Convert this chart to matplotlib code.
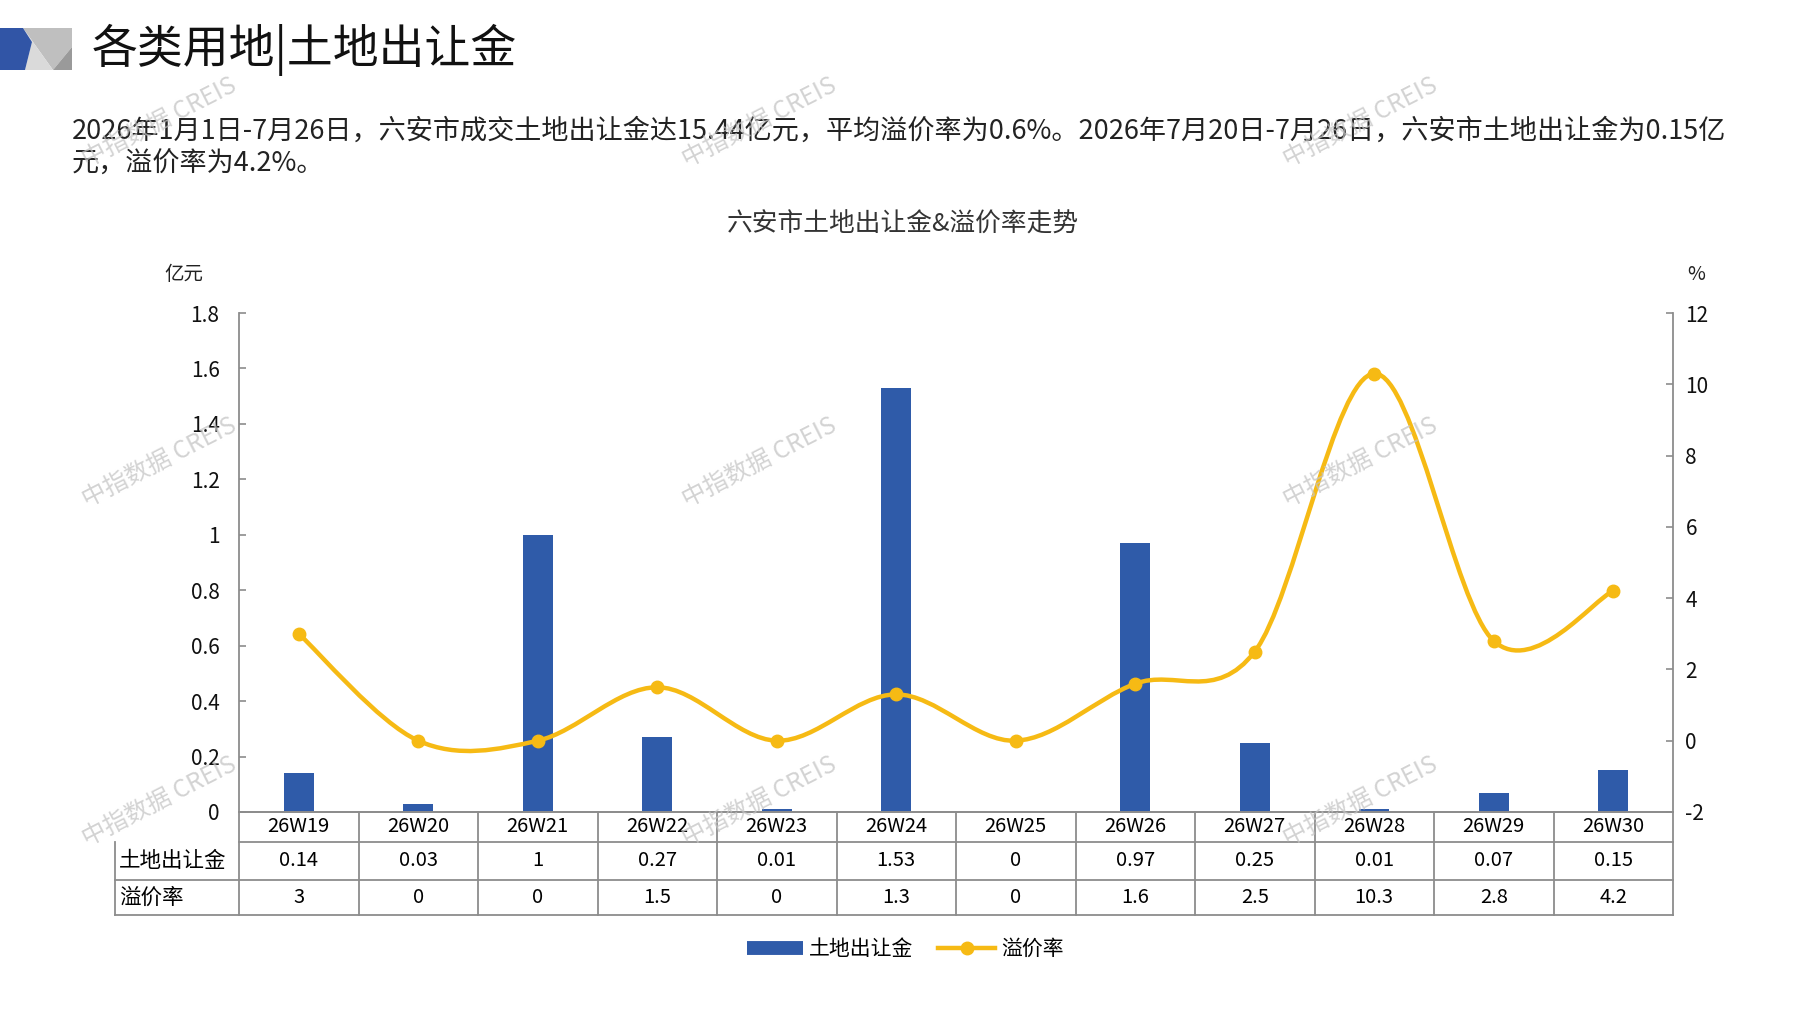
import matplotlib
matplotlib.use("Agg")
import matplotlib.pyplot as plt
import matplotlib.transforms as mtransforms
from matplotlib.path import Path
from matplotlib.patches import PathPatch, Polygon
from matplotlib.lines import Line2D
import numpy as np

plt.rcParams['font.family'] = ['Noto Sans CJK SC', 'DejaVu Sans']

# 数据
weeks = ['26W19', '26W20', '26W21', '26W22', '26W23', '26W24',
         '26W25', '26W26', '26W27', '26W28', '26W29', '26W30']
land_money = [0.14, 0.03, 1, 0.27, 0.01, 1.53, 0, 0.97, 0.25, 0.01, 0.07, 0.15]
premium_rate = [3, 0, 0, 1.5, 0, 1.3, 0, 1.6, 2.5, 10.3, 2.8, 4.2]
left_ticks = [0, 0.2, 0.4, 0.6, 0.8, 1, 1.2, 1.4, 1.6, 1.8]
right_ticks = [-2, 0, 2, 4, 6, 8, 10, 12]
row_names = ['土地出让金', '溢价率']

title = '各类用地|土地出让金'
para1 = ('2026年1月1日-7月26日，六安市成交土地出让金达15.44亿元，平均溢价率为0.6%。'
         '2026年7月20日-7月26日，六安市土地出让金为0.15亿')
para2 = '元，溢价率为4.2%。'
chart_title = '六安市土地出让金&溢价率走势'

BLUE = '#2F5BA9'
GOLD = '#F6BA14'
GRID = '#8C8C8C'

W, H = 1797, 1010
fig = plt.figure(figsize=(W / 100, H / 100), dpi=100)


def fx(px):
    return px / W


def fy(py):
    return 1 - py / H


# 标题左侧色块
blocks = [
    ([(23, 28), (72, 28), (72, 47), (53, 70)], '#BFBFBF'),
    ([(23, 28), (53, 70), (25, 70), (32, 42)], '#DADADA'),
    ([(53, 70), (72, 47), (72, 70)], '#9A9A9A'),
    ([(0, 28), (23, 28), (32, 42), (25, 70), (0, 70)], '#3155A6'),
]
for pts, c in blocks:
    fig.patches.append(Polygon([(fx(a), fy(b)) for a, b in pts], closed=True,
                               transform=fig.transFigure, color=c, lw=0))

fig.text(fx(92), fy(50), title, fontsize=33, va='center', ha='left', color='#111111')
fig.text(fx(72), fy(131), para1, fontsize=19.5, va='center', ha='left', color='#222222')
fig.text(fx(72), fy(164), para2, fontsize=19.5, va='center', ha='left', color='#222222')
fig.text(fx(903), fy(225), chart_title, fontsize=18.5, va='center', ha='center', color='#333333')
fig.text(fx(184), fy(274), '亿元', fontsize=14, va='center', ha='center', color='#222222')
fig.text(fx(1696), fy(274), '%', fontsize=14, va='center', ha='center', color='#222222')

# 主图区
x0, x1, y0, y1 = 239, 1673, 313, 812
ax = fig.add_axes([fx(x0), fy(y1), (x1 - x0) / W, (y1 - y0) / H])
ax2 = ax.twinx()

x = np.arange(len(weeks))
bars = ax.bar(x, land_money, width=0.25, color=BLUE, zorder=2, label='土地出让金')
ax.set_xlim(-0.5, len(weeks) - 0.5)
ax.set_ylim(0, 1.8)
ax.set_yticks(left_ticks)
ax.set_yticklabels([f'{v:g}' for v in left_ticks])
ax2.set_ylim(-2, 12)
ax2.set_yticks(right_ticks)
ax2.set_yticklabels([f'{v:g}' for v in right_ticks])
ax.set_xticks([])

for a in (ax, ax2):
    a.spines['top'].set_visible(False)
    for s in ('left', 'right', 'bottom'):
        a.spines[s].set_color(GRID)
        a.spines[s].set_linewidth(1.3)
    a.tick_params(axis='y', direction='in', length=5, width=1.2, color=GRID,
                  labelsize=15, labelcolor='#111111')
ax.tick_params(axis='y', pad=14)
ax2.tick_params(axis='y', pad=9)
ax.spines['right'].set_visible(False)
ax2.spines['left'].set_visible(False)

# 平滑折线（贝塞尔曲线）
pts = np.column_stack([x, premium_rate]).astype(float)
n = len(pts)
verts = [pts[0]]
codes = [Path.MOVETO]
for i in range(n - 1):
    p0 = pts[max(i - 1, 0)]
    p1 = pts[i]
    p2 = pts[i + 1]
    p3 = pts[min(i + 2, n - 1)]
    verts += [p1 + (p2 - p0) / 6, p2 - (p3 - p1) / 6, p2]
    codes += [Path.CURVE4] * 3
ax2.add_patch(PathPatch(Path(verts, codes), facecolor='none', edgecolor=GOLD,
                        lw=3.2, zorder=3, capstyle='round'))
ax2.plot(x, premium_rate, linestyle='none', marker='o', markersize=9,
         color=GOLD, zorder=4)

# 数据表
tr = mtransforms.blended_transform_factory(ax.transData, ax.transAxes)
tra = ax.transAxes
h = y1 - y0
r0 = -30 / h
r1 = -68 / h
r2 = -103 / h
lx = (115 - x0) / (x1 - x0)
lkw = dict(color=GRID, lw=1.3, clip_on=False, transform=tra)
for yy in (r0, r1, r2):
    ax.add_line(Line2D([lx if yy != r0 else 0, 1], [yy, yy], **lkw))
ax.add_line(Line2D([lx, lx], [r0, r2], **lkw))
for i in range(len(weeks) + 1):
    ax.add_line(Line2D([i / len(weeks)] * 2, [0, r2], **lkw))

for i, wk in enumerate(weeks):
    ax.text(i, r0 / 2, wk, transform=tr, ha='center', va='center', fontsize=14.5)
    ax.text(i, (r0 + r1) / 2, f'{land_money[i]:g}', transform=tr,
            ha='center', va='center', fontsize=14.5)
    ax.text(i, (r1 + r2) / 2, f'{premium_rate[i]:g}', transform=tr,
            ha='center', va='center', fontsize=14.5)
ax.text(lx + 0.003, (r0 + r1) / 2, row_names[0], transform=tra,
        ha='left', va='center', fontsize=15.5)
ax.text(lx + 0.003, (r1 + r2) / 2, row_names[1], transform=tra,
        ha='left', va='center', fontsize=15.5)

# 图例
h_bar = Line2D([], [], color=BLUE, lw=10, solid_capstyle='butt')
h_line = Line2D([], [], color=GOLD, lw=3.2, marker='o', markersize=9)
fig.legend([h_bar, h_line], ['土地出让金', '溢价率'], loc='center',
           bbox_to_anchor=(fx(905), fy(949)), ncol=2, frameon=False,
           fontsize=15, handlelength=2.7, columnspacing=1.2, handletextpad=0.3)

# 水印
for wy in (123, 463, 802):
    for wx in (159, 759, 1360):
        fig.text(fx(wx), fy(wy), '中指数据 CREIS', fontsize=17.5, color='#C4C4C4',
                 alpha=0.75, rotation=27, ha='center', va='center', zorder=10)

fig.savefig('out.png', dpi=100, facecolor='white')
